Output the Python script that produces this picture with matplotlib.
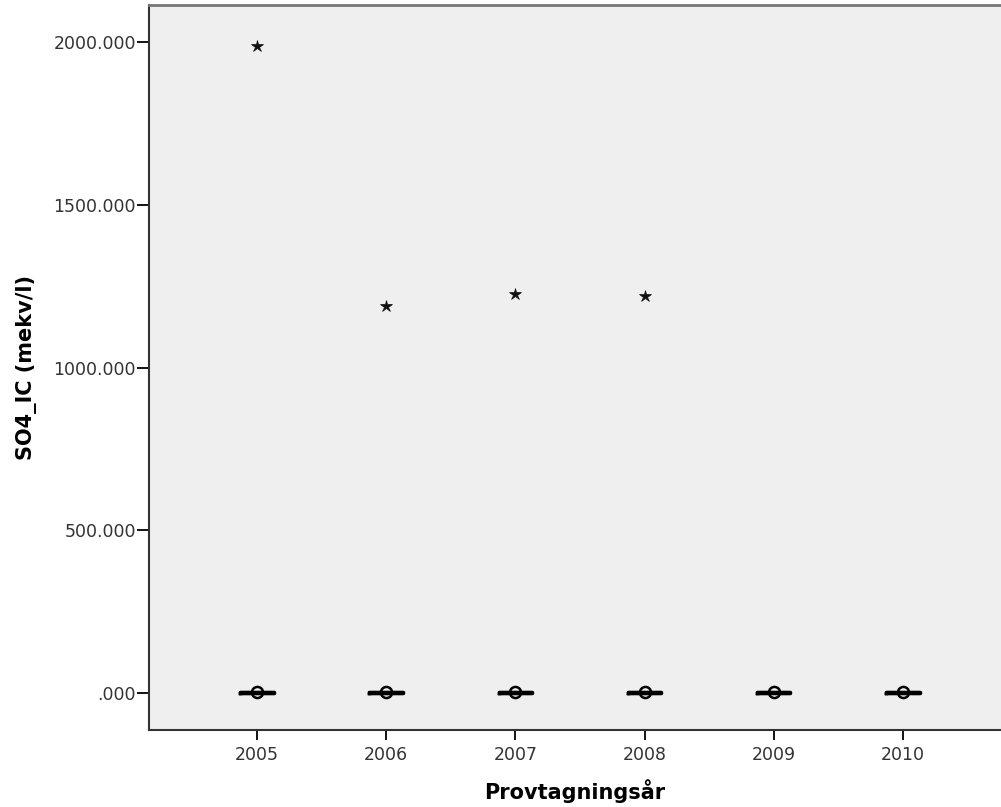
import matplotlib
matplotlib.use("Agg")
import matplotlib.pyplot as plt

plt.rcParams['font.family'] = ['DejaVu Sans']

# Data
years = [2005, 2006, 2007, 2008, 2009, 2010]
q1 = [0.5, 0.5, 0.5, 0.5, 0.5, 0.5]
median = [1.0, 1.0, 1.0, 1.0, 1.0, 1.0]
q3 = [1.6, 1.6, 1.6, 1.6, 1.6, 1.6]
whis_lo = [0.2, 0.2, 0.2, 0.2, 0.2, 0.2]
whis_hi = [3.0, 3.0, 3.0, 3.0, 3.0, 3.0]
outlier_years = [2005, 2006, 2007, 2008, 2009, 2010]
outlier_vals = [4.0, 4.0, 4.0, 4.0, 4.0, 4.0]
extreme_years = [2005, 2006, 2007, 2008]
extreme_vals = [1988, 1190, 1227, 1221]
ytick_vals = [0, 500, 1000, 1500, 2000]
ytick_labels = [".000", "500.000", "1000.000", "1500.000", "2000.000"]

fig = plt.figure(figsize=(10.01, 8.07), dpi=100)
ax = fig.add_axes([0.1489, 0.0954, 0.8511, 0.8984])
ax.set_facecolor('#efefef')

stats = []
for i in range(len(years)):
    stats.append({'med': median[i], 'q1': q1[i], 'q3': q3[i],
                  'whislo': whis_lo[i], 'whishi': whis_hi[i], 'fliers': []})
ax.bxp(stats, positions=years, widths=0.26, showcaps=True,
       boxprops=dict(color='black', linewidth=2.5),
       medianprops=dict(color='black', linewidth=3),
       whiskerprops=dict(color='black', linewidth=2),
       capprops=dict(color='black', linewidth=2))

ax.plot(outlier_years, outlier_vals, 'o', markerfacecolor='none',
        markeredgecolor='black', markersize=8, markeredgewidth=1.8)
ax.plot(outlier_years, outlier_vals, '.', color='black', markersize=2)
ax.plot(extreme_years, extreme_vals, '*', color='#111111',
        markersize=9, markeredgewidth=0.5)

ax.set_xlim(2004.164, 2010.76)
ax.set_ylim(-113.7, 2113.7)
ax.set_xticks(years)
ax.set_xticklabels([str(y) for y in years], fontsize=12.5)
ax.set_yticks(ytick_vals)
ax.set_yticklabels(ytick_labels, fontsize=12.5)
ax.tick_params(axis='y', direction='out', length=9, width=1.3, color='black',
               labelcolor='#333333', pad=0.5)
ax.tick_params(axis='x', direction='out', length=7.5, width=1.3, color='black',
               labelcolor='#333333', pad=4)

for side in ['left', 'bottom']:
    ax.spines[side].set_color('#333333')
    ax.spines[side].set_linewidth(1.5)
ax.spines['top'].set_color('#777777')
ax.spines['top'].set_linewidth(2)
ax.spines['right'].set_visible(False)

ax.set_xlabel('Provtagningsår', fontsize=15, fontweight='bold', labelpad=11)
ax.set_ylabel('SO4_IC (mekv/l)', fontsize=15, fontweight='bold', labelpad=12)

fig.savefig('out.png', dpi=100, facecolor='white')
